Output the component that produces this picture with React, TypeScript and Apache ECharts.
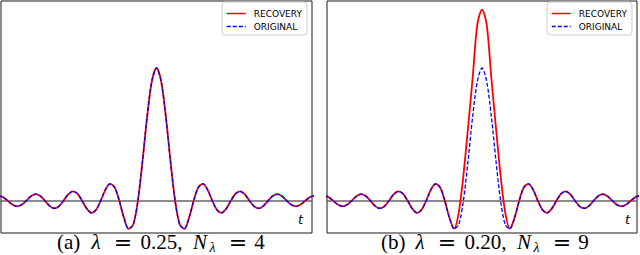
import React, { useEffect, useRef } from 'react';
import * as echarts from 'echarts';

// sample positions along t (axis units)
const T = [
  -8.5, -8.25, -8, -7.75, -7.5, -7.25, -7, -6.75, -6.5, -6.25, -6, -5.75, -5.5, -5.25, -5, -4.75, -4.5,
  -4.25, -4, -3.75, -3.5, -3.25, -3, -2.75, -2.5, -2.25, -2, -1.75, -1.5, -1.25, -1, -0.75, -0.5, -0.25,
  0,
  0.25, 0.5, 0.75, 1, 1.25, 1.5, 1.75, 2, 2.25, 2.5, 2.75, 3, 3.25, 3.5, 3.75, 4, 4.25, 4.5, 4.75, 5,
  5.25, 5.5, 5.75, 6, 6.25, 6.5, 6.75, 7, 7.25, 7.5, 7.75, 8, 8.25, 8.5,
];

// ORIGINAL signal (both panels)
const ORIGINAL = [
  0.037, 0.027, 0, -0.029, -0.042, -0.031, 0, 0.033, 0.049, 0.036, 0, -0.039, -0.058, -0.043, 0, 0.047, 0.071,
  0.053, 0, -0.06, -0.091, -0.069, 0, 0.082, 0.127, 0.1, 0, -0.129, -0.212, -0.18, 0, 0.3, 0.637, 0.9,
  1,
  0.9, 0.637, 0.3, 0, -0.18, -0.212, -0.129, 0, 0.1, 0.127, 0.082, 0, -0.069, -0.091, -0.06, 0,
  0.053, 0.071, 0.047, 0, -0.043, -0.058, -0.039, 0, 0.036, 0.049, 0.033, 0, -0.031, -0.042, -0.029, 0, 0.027, 0.037,
];

// RECOVERY, panel (a): lambda = 0.25
const RECOVERY_A = [
  0.037, 0.027, 0, -0.029, -0.042, -0.031, 0, 0.033, 0.049, 0.036, 0, -0.039, -0.058, -0.043, 0, 0.047, 0.071,
  0.053, 0, -0.06, -0.091, -0.069, 0, 0.082, 0.127, 0.1, 0, -0.129, -0.212, -0.18, 0, 0.3, 0.637, 0.9,
  1,
  0.9, 0.637, 0.3, 0, -0.18, -0.212, -0.129, 0, 0.1, 0.127, 0.082, 0, -0.069, -0.091, -0.06, 0,
  0.053, 0.071, 0.047, 0, -0.043, -0.058, -0.039, 0, 0.036, 0.049, 0.033, 0, -0.031, -0.042, -0.029, 0, 0.027, 0.037,
];

// RECOVERY, panel (b): lambda = 0.20
const RECOVERY_B = [
  0.037, 0.027, 0, -0.029, -0.042, -0.031, 0, 0.033, 0.049, 0.036, 0, -0.039, -0.058, -0.043, 0, 0.047, 0.071,
  0.053, 0, -0.06, -0.091, -0.069, 0, 0.082, 0.127, 0.1, 0, -0.129, -0.21, -0.09, 0.19, 0.55, 0.93, 1.33,
  1.44,
  1.33, 0.93, 0.55, 0.19, -0.09, -0.21, -0.129, 0, 0.1, 0.127, 0.082, 0, -0.069, -0.091, -0.06, 0,
  0.053, 0.071, 0.047, 0, -0.043, -0.058, -0.039, 0, 0.036, 0.049, 0.033, 0, -0.031, -0.042, -0.029, 0, 0.027, 0.037,
];

const LEGEND_NAMES = ['RECOVERY', 'ORIGINAL'];
const PANEL_LABELS = ['(a)', '(b)'];
const LAMBDA_VALUES = ['0.25,', '0.20,'];
const N_VALUES = ['4', '9'];
const AXIS_NAME = 't';

const RED = '#ff0000';
const BLUE = '#0000ff';
const SERIF = '"Liberation Serif", "Times New Roman", serif';

function caption(i: number, dx: number) {
  const base = { fill: '#000', verticalAlign: 'middle' as const };
  const cy = 242;
  return {
    type: 'group',
    x: dx,
    y: 0,
    children: [
      { type: 'text', style: { ...base, text: PANEL_LABELS[i], x: 57, y: cy, align: 'left', font: `21px ${SERIF}` } },
      { type: 'text', style: { ...base, text: 'λ', x: 96, y: cy, align: 'center', font: `italic 21px ${SERIF}` } },
      { type: 'text', style: { ...base, text: '=', x: 123, y: cy + 0.5, align: 'center', font: '22px "DejaVu Serif", serif' } },
      { type: 'text', style: { ...base, text: LAMBDA_VALUES[i], x: 140.5, y: cy, align: 'left', font: `21px ${SERIF}` } },
      { type: 'text', style: { ...base, text: 'N', x: 200, y: cy, align: 'center', font: `italic 21px ${SERIF}` } },
      { type: 'text', style: { ...base, text: 'λ', x: 209.5, y: cy + 5, align: 'left', font: `italic 14px ${SERIF}` } },
      { type: 'text', style: { ...base, text: '=', x: 238, y: cy + 0.5, align: 'center', font: '22px "DejaVu Serif", serif' } },
      { type: 'text', style: { ...base, text: N_VALUES[i], x: 259.5, y: cy, align: 'center', font: `21px ${SERIF}` } },
    ],
  };
}

export default function App() {
  const ref = useRef<HTMLDivElement>(null);
  useEffect(() => {
    if (!ref.current) return;
    const chart = echarts.init(ref.current, undefined, { renderer: 'svg' });
    const grids = [
      { left: 1, top: 1, width: 311, height: 232 },
      { left: 327, top: 1, width: 310, height: 232 },
    ];
    const xRanges = [
      [-8.36, 8.36],
      [-8.33, 8.33],
    ];
    const recoveries = [RECOVERY_A, RECOVERY_B];
    const series: any[] = [];
    [0, 1].forEach((i) => {
      series.push({
        type: 'line',
        name: LEGEND_NAMES[0],
        xAxisIndex: i,
        yAxisIndex: i,
        data: T.map((t, k) => [t, recoveries[i][k]]),
        symbol: 'none',
        smooth: 0.3,
        lineStyle: { color: RED, width: 1.8 },
        itemStyle: { color: RED },
        z: 3,
      });
      series.push({
        type: 'line',
        name: LEGEND_NAMES[1],
        xAxisIndex: i,
        yAxisIndex: i,
        data: T.map((t, k) => [t, ORIGINAL[k]]),
        symbol: 'none',
        smooth: 0.3,
        lineStyle: { color: BLUE, width: 1.3, type: [4, 2] },
        itemStyle: { color: BLUE },
        z: 4,
      });
    });
    chart.setOption({
      animation: false,
      backgroundColor: '#ffffff',
      grid: grids.map((g) => ({ ...g, show: true, borderColor: '#1a1a1a', borderWidth: 1, backgroundColor: 'transparent' })),
      xAxis: [0, 1].map((i) => ({
        gridIndex: i,
        type: 'value',
        min: xRanges[i][0],
        max: xRanges[i][1],
        axisLine: { show: true, onZero: true, lineStyle: { color: '#666666', width: 1.6 } },
        axisTick: { show: false },
        axisLabel: { show: false },
        splitLine: { show: false },
      })),
      yAxis: [0, 1].map((i) => ({
        gridIndex: i,
        type: 'value',
        min: -0.2434,
        max: 1.505,
        axisLine: { show: false },
        axisTick: { show: false },
        axisLabel: { show: false },
        splitLine: { show: false },
      })),
      legend: [222, 547].map((left) => ({
        data: LEGEND_NAMES,
        left,
        top: 2,
        orient: 'vertical',
        itemWidth: 19,
        itemHeight: 10,
        itemGap: 4,
        padding: [7, 5, 4, 4],
        backgroundColor: 'rgba(255,255,255,0.85)',
        borderColor: '#cccccc',
        borderWidth: 1,
        borderRadius: 3,
        selectedMode: false,
        itemStyle: { color: 'rgba(0,0,0,0)', borderWidth: 0, opacity: 0 },
        lineStyle: { width: 1.5 },
        textStyle: { fontFamily: '"DejaVu Sans", sans-serif', fontSize: 9, color: '#000', padding: [0, 0, 0, 3] },
      })),
      graphic: [
        { type: 'text', style: { text: AXIS_NAME, x: 300.5, y: 219.5, align: 'center', verticalAlign: 'middle', fill: '#000', font: 'italic 13px "DejaVu Sans", sans-serif' } },
        { type: 'text', style: { text: AXIS_NAME, x: 627.5, y: 219.5, align: 'center', verticalAlign: 'middle', fill: '#000', font: 'italic 13px "DejaVu Sans", sans-serif' } },
        caption(0, 0),
        caption(1, 324),
      ],
      series,
    });
    return () => chart.dispose();
  }, []);
  return <div ref={ref} style={{ position: 'fixed', left: 0, top: 0, width: 640, height: 255, background: '#fff' }} />;
}
